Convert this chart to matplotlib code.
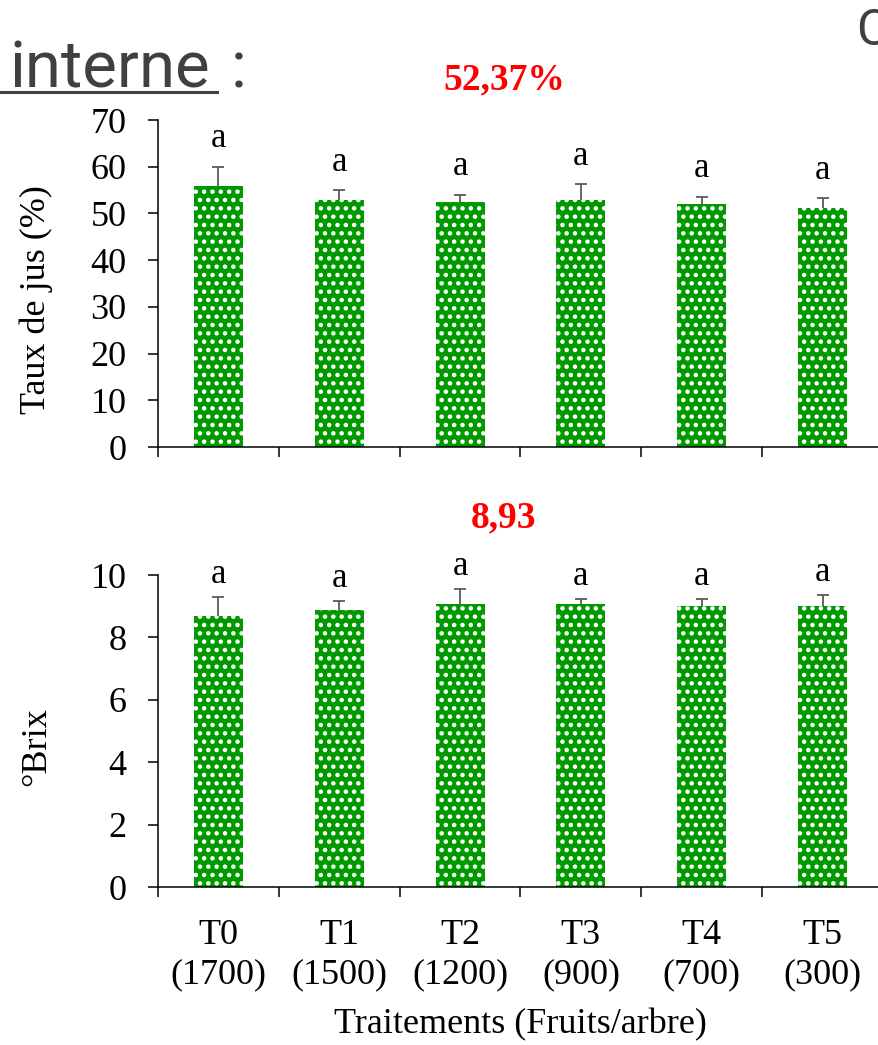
import matplotlib
matplotlib.use("Agg")
import matplotlib.pyplot as plt
from matplotlib.lines import Line2D
import numpy as np

# Données
traitements = ["T0\n(1700)", "T1\n(1500)", "T2\n(1200)", "T3\n(900)", "T4\n(700)", "T5\n(300)"]
jus_moy = [55.9, 52.9, 52.5, 52.9, 52.0, 51.2]
jus_err = [4.1, 2.1, 1.5, 3.3, 1.6, 2.0]
jus_lettres = ["a", "a", "a", "a", "a", "a"]
brix_moy = [8.68, 8.87, 9.06, 9.06, 9.00, 9.00]
brix_err = [0.62, 0.30, 0.48, 0.17, 0.23, 0.37]
brix_lettres = ["a", "a", "a", "a", "a", "a"]
moyenne_jus = "52,37%"
moyenne_brix = "8,93"

W, H = 879, 1045
plt.rcParams['font.family'] = ['Liberation Serif', 'DejaVu Serif']
plt.rcParams['hatch.color'] = 'white'
plt.rcParams['hatch.linewidth'] = 2.0

fig = plt.figure(figsize=(W / 100, H / 100), dpi=100)

VERT = '#009900'
GRIS = '#595959'
TAILLE = 26


def panneau(rect, moy, err, lettres, ylim, yticks, ylabel, label_y, offset_lettre, montrer_x):
    ax = fig.add_axes(rect)
    x = np.arange(len(moy))
    ax.bar(x, moy, width=0.405, color=VERT, hatch='..', linewidth=0, zorder=2)
    _, caps, _ = ax.errorbar(x, moy, yerr=[np.zeros(len(err)), err], fmt='none', ecolor=GRIS,
                             elinewidth=1.3, capsize=4.5, capthick=1.3, zorder=3)
    # pas de trait du bas (seulement la barre d'erreur supérieure)
    for c in caps:
        if np.allclose(c.get_ydata(), moy):
            c.set_visible(False)
    for xi, m, e, l in zip(x, moy, err, lettres):
        ax.annotate(l, (xi, m + e), xytext=(0, offset_lettre), textcoords='offset points',
                    ha='center', va='baseline', fontsize=TAILLE - 1)
    ax.set_xlim(-0.5, 5.5)
    ax.set_ylim(*ylim)
    ax.set_yticks(yticks)
    ax.tick_params(axis='y', labelsize=TAILLE, length=7.5, width=1.1, pad=15)
    ax.set_xticks(np.arange(-0.5, 6.0, 1.0))
    ax.set_xticklabels([])
    ax.tick_params(axis='x', which='major', length=7.5, width=1.1)
    ax.set_xticks(x, minor=True)
    if montrer_x:
        ax.set_xticklabels(traitements, minor=True, fontsize=TAILLE, linespacing=1.25)
    ax.tick_params(axis='x', which='minor', length=0, pad=23)
    for s in ['top', 'right']:
        ax.spines[s].set_visible(False)
    for s in ['left', 'bottom']:
        ax.spines[s].set_linewidth(1.1)
    ax.set_ylabel(ylabel, fontsize=TAILLE)
    ax.yaxis.set_label_coords(-0.145, label_y)
    ax.patch.set_alpha(0)
    return ax


def rect(x0, x1, ytop, ybot):
    return [x0 / W, 1 - ybot / H, (x1 - x0) / W, (ybot - ytop) / H]


ax1 = panneau(rect(158, 883, 120, 447), jus_moy, jus_err, jus_lettres, (0, 70),
              range(0, 71, 10), "Taux de jus (%)", 0.45, 14, False)
ax2 = panneau(rect(158, 883, 575, 887), brix_moy, brix_err, brix_lettres, (0, 10),
              range(0, 11, 2), "°Brix", 0.449, 10, True)
ax2.set_xlabel("Traitements (Fruits/arbre)", fontsize=TAILLE, labelpad=12)

# Moyennes générales en rouge
fig.text(504 / W, 1 - 80 / H, moyenne_jus, color='red', fontweight='bold', fontsize=27,
         ha='center', va='center')
fig.text(504 / W, 1 - 518 / H, moyenne_brix, color='red', fontweight='bold', fontsize=27,
         ha='center', va='center')

# Restes du titre de la diapositive
fig.text(10 / W, 1 - 87 / H, "interne", color='#404040', fontsize=47, family='Roboto',
         ha='left', va='baseline')
fig.text(231 / W, 1 - 87 / H, ":", color='#404040', fontsize=47, family='Roboto',
         ha='left', va='baseline')
fig.add_artist(Line2D([0, 217 / W], [1 - 92 / H, 1 - 92 / H], color='#404040', linewidth=2.2))
fig.text(856 / W, 1 - 45 / H, "C", color='#404040', fontsize=36, family='Roboto',
         ha='left', va='baseline')

fig.savefig("out.png", dpi=100)
